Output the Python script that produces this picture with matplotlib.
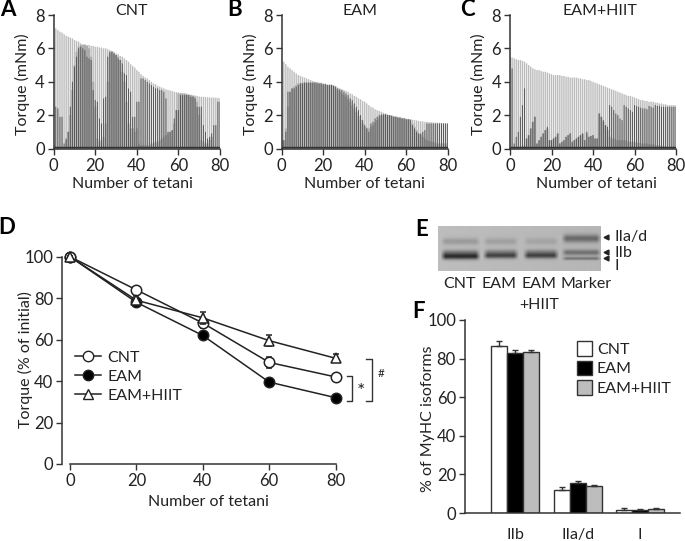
import numpy as np
import matplotlib
matplotlib.use('Agg')
import matplotlib.pyplot as plt
from matplotlib.patches import Patch
from matplotlib.lines import Line2D

plt.rcParams['font.family'] = ['Lato', 'DejaVu Sans']
INK = '#222222'
W, H = 685, 541
FS = 11.5

tetani = np.arange(81)

# traces A-C: top of each tetanus, then top of the grey fill and of the dark line
a_peak = [7.25, 7.2, 7.1, 7.0, 6.95, 6.85, 6.75, 6.7, 6.65, 6.6,
          6.5, 6.45, 6.4, 6.3, 6.25, 6.25, 6.2, 6.2, 6.15, 6.15,
          6.1, 6.1, 6.05, 6.05, 6.0, 6.0, 5.95, 5.9, 5.85, 5.8,
          5.7, 5.65, 5.55, 5.5, 5.4, 5.3, 5.2, 5.05, 4.95, 4.85,
          4.7, 4.6, 4.45, 4.35, 4.25, 4.2, 4.1, 4.0, 3.9, 3.85,
          3.75, 3.7, 3.65, 3.6, 3.55, 3.5, 3.48, 3.45, 3.4, 3.38,
          3.35, 3.33, 3.3, 3.3, 3.28, 3.25, 3.22, 3.2, 3.18, 3.15,
          3.12, 3.1, 3.1, 3.08, 3.07, 3.06, 3.05, 3.05, 3.04, 3.03, 3.02]
a_mid = [0.1, 0.1, 0.1, 0.1, 0.1, 0.1, 0.5, 1.0, 2.0, 3.5,
         5.0, 5.8, 6.1, 6.2, 6.2, 6.2, 6.15, 6.0, 5.5, 4.0,
         2.5, 0.6, 0.4, 0.5, 0.7, 1.5, 4.0, 5.7, 5.8, 5.7,
         5.6, 5.5, 5.3, 4.6, 4.0, 2.8, 1.5, 1.2, 1.2, 1.0,
         1.2, 0.3, 0.2, 0.2, 0.2, 0.2, 0.2, 0.3, 0.3, 0.4,
         0.4, 0.5, 0.6, 0.7, 0.8, 0.9, 1.0, 1.1, 1.5, 2.3,
         3.3, 3.3, 3.3, 3.3, 3.25, 3.2, 3.2, 3.15, 3.1, 2.8,
         2.0, 0.5, 0.4, 0.3, 0.3, 0.5, 0.7, 0.1, 0.1, 0.1, 0.1]
a_dark = [0.2, 2.5, 2.4, 1.9, 1.9, 0.3, 0.6, 1.0, 2.5, 4.0,
          4.9, 5.5, 6.0, 6.1, 6.0, 5.9, 5.5, 5.4, 5.3, 3.5,
          2.9, 2.8, 1.8, 1.5, 3.0, 3.1, 5.5, 5.8, 5.8, 5.7,
          5.6, 5.4, 5.3, 5.1, 4.5, 4.4, 3.6, 3.4, 1.9, 1.9,
          2.8, 2.8, 4.2, 4.2, 4.1, 4.0, 3.9, 3.8, 3.7, 3.6,
          3.6, 3.5, 3.5, 3.4, 3.0, 1.0, 1.0, 1.1, 1.8, 2.3,
          2.3, 3.2, 3.2, 3.2, 3.2, 3.2, 3.1, 3.1, 3.0, 2.5,
          2.5, 2.5, 1.4, 1.0, 0.6, 0.7, 0.9, 1.4, 1.4, 2.8, 2.8]

b_peak = [5.3, 5.2, 5.05, 4.9, 4.8, 4.7, 4.6, 4.5, 4.4, 4.35,
          4.3, 4.25, 4.2, 4.15, 4.1, 4.05, 4.0, 4.0, 3.95, 3.95,
          3.9, 3.9, 3.85, 3.85, 3.85, 3.8, 3.75, 3.65, 3.6, 3.55,
          3.5, 3.45, 3.4, 3.3, 3.25, 3.15, 3.1, 3.0, 2.95, 2.85,
          2.8, 2.7, 2.6, 2.5, 2.45, 2.35, 2.3, 2.25, 2.2, 2.15,
          2.1, 2.05, 2.0, 2.0, 1.95, 1.93, 1.9, 1.88, 1.85, 1.83,
          1.8, 1.78, 1.75, 1.72, 1.7, 1.68, 1.65, 1.63, 1.62, 1.6,
          1.6, 1.58, 1.58, 1.56, 1.55, 1.55, 1.54, 1.53, 1.52, 1.5, 1.5]
b_mid = [0.1, 0.5, 1.2, 2.5, 3.4, 3.6, 3.7, 3.8, 3.9, 3.9,
         3.95, 3.95, 3.95, 3.95, 3.95, 3.95, 3.95, 3.95, 3.9, 3.9,
         3.85, 3.85, 3.8, 3.8, 3.8, 3.75, 3.6, 3.5, 3.4, 3.3,
         3.2, 3.1, 2.95, 2.8, 2.6, 2.4, 2.2, 1.95, 1.7, 1.5,
         1.3, 1.25, 1.2, 1.3, 1.4, 1.55, 1.7, 1.85, 1.95, 2.0,
         2.05, 2.0, 2.0, 1.95, 1.9, 1.9, 1.85, 1.85, 1.8, 1.8,
         1.75, 1.75, 1.75, 1.5, 1.3, 1.1, 0.9, 0.8, 0.7, 0.6,
         0.5, 0.45, 0.4, 0.4, 0.35, 0.3, 0.3, 0.3, 0.3, 0.3, 0.3]
b_dark = [0.5, 0.5, 1.0, 3.4, 3.4, 3.6, 3.6, 3.7, 3.8, 3.9,
          3.9, 3.95, 3.95, 3.95, 3.95, 3.95, 3.95, 3.9, 3.9, 3.9,
          3.85, 3.85, 3.8, 3.8, 3.8, 3.75, 3.7, 3.6, 3.55, 3.5,
          3.4, 3.3, 3.2, 3.0, 2.9, 2.7, 2.5, 2.3, 2.0, 1.7,
          1.4, 1.2, 1.0, 1.5, 1.6, 1.8, 1.9, 2.0, 2.05, 2.05,
          2.05, 2.0, 2.0, 1.95, 1.9, 1.9, 1.85, 1.85, 1.8, 1.8,
          1.75, 1.75, 1.7, 1.4, 1.2, 1.0, 0.9, 0.9, 1.0, 1.1,
          1.5, 1.5, 1.5, 1.5, 1.5, 1.5, 1.5, 1.5, 1.5, 1.5, 1.5]

c_peak = [5.5, 5.45, 5.4, 5.35, 5.3, 5.3, 5.25, 5.2, 5.1, 5.0,
          4.9, 4.8, 4.75, 4.7, 4.7, 4.65, 4.6, 4.6, 4.55, 4.5,
          4.45, 4.4, 4.4, 4.4, 4.4, 4.35, 4.35, 4.3, 4.3, 4.25,
          4.25, 4.25, 4.25, 4.2, 4.2, 4.15, 4.15, 4.1, 4.1, 4.05,
          4.0, 3.95, 3.9, 3.85, 3.8, 3.75, 3.7, 3.65, 3.6, 3.55,
          3.5, 3.45, 3.4, 3.35, 3.3, 3.25, 3.2, 3.15, 3.15, 3.1,
          3.05, 3.0, 2.95, 2.9, 2.9, 2.85, 2.85, 2.8, 2.8, 2.8,
          2.75, 2.75, 2.7, 2.7, 2.65, 2.65, 2.6, 2.6, 2.6, 2.6, 2.6]
c_mid = [0.1, 0.1, 0.1, 0.1, 0.1, 0.1, 0.1, 0.2, 0.6, 0.8,
         1.2, 1.6, 1.9, 0.3, 0.5, 0.7, 0.9, 1.1, 1.2, 0.5,
         0.5, 0.6, 0.7, 0.9, 0.3, 0.4, 0.5, 0.7, 0.8, 0.9,
         0.4, 0.5, 0.6, 0.7, 0.8, 0.9, 0.5, 0.9, 0.7, 0.75,
         0.8, 0.6, 0.6, 2.1, 1.9, 1.6, 1.4, 1.1, 0.7, 0.6,
         0.6, 0.5, 0.5, 0.5, 0.5, 0.5, 0.5, 0.4, 0.4, 0.4,
         0.4, 0.35, 0.35, 0.3, 0.3, 0.3, 0.3, 0.25, 0.25, 0.25,
         0.2, 0.2, 0.2, 0.15, 0.15, 0.1, 0.1, 0.1, 0.1, 0.1, 0.1]
c_dark = [0.1, 4.8, 0.3, 0.7, 1.0, 1.9, 2.6, 3.6, 0.6, 0.8,
          1.2, 1.6, 1.9, 0.3, 0.5, 0.7, 0.9, 1.1, 1.3, 0.5,
          0.5, 0.6, 0.7, 0.9, 0.3, 0.4, 0.5, 0.7, 0.8, 0.9,
          0.4, 0.5, 0.6, 0.7, 0.8, 0.9, 0.5, 1.0, 0.7, 0.75,
          0.8, 0.6, 0.6, 2.1, 1.9, 1.7, 1.4, 1.3, 2.6, 2.5,
          2.3, 2.1, 2.0, 1.8, 1.7, 2.6, 2.5, 2.4, 2.3, 2.2,
          2.6, 2.55, 2.5, 2.45, 2.4, 2.4, 2.35, 2.55, 2.5, 2.45,
          2.6, 2.55, 2.55, 2.5, 2.5, 2.5, 2.5, 2.5, 2.5, 2.5, 2.5]

# D: torque over the protocol
d_x = [0, 20, 40, 60, 80]
d_cnt = [100, 84, 68, 49, 42]
d_eam = [100, 78, 62, 39.5, 32]
d_hiit = [100, 79, 70.5, 59.5, 51]
d_cnt_err = [0.5, 1.5, 2.5, 2.5, 1.5]
d_eam_err = [0.5, 1.5, 1.5, 1.5, 1.0]
d_hiit_err = [0.5, 2.0, 3.0, 2.5, 2.0]

# F: MyHC isoforms
isoforms = ['IIb', 'IIa/d', 'I']
f_cnt = [86.5, 11.7, 1.8]
f_eam = [83.0, 15.8, 1.7]
f_hiit = [83.5, 14.2, 2.3]
f_cnt_err = [2.5, 2.0, 0.8]
f_eam_err = [1.3, 1.0, 0.3]
f_hiit_err = [0.9, 0.5, 0.4]

# E: gel bands as (left, right, row, half height, strength), in gel pixels
gel_bands = [(6, 38, 16, 3.5, 0.13), (48, 76, 16, 3.5, 0.10), (88, 116, 16, 3.5, 0.08),
             (126, 158, 13, 4.0, 0.30),
             (6, 38, 27, 3.0, 0.22), (48, 76, 26, 2.5, 0.15), (88, 116, 26, 2.5, 0.15),
             (6, 38, 31, 3.0, 0.52), (48, 76, 30, 3.0, 0.45), (88, 116, 30, 3.0, 0.45),
             (126, 158, 27, 3.0, 0.27), (126, 158, 33, 1.6, 0.25)]


def px_axes(x0, x1, ytop, ybot):
    return fig.add_axes([x0 / W, 1 - ybot / H, (x1 - x0) / W, (ybot - ytop) / H])


def label(x, y, s, **kw):
    kw.setdefault('color', INK)
    kw.setdefault('ha', 'center')
    kw.setdefault('va', 'center')
    fig.text(x / W, 1 - y / H, s, **kw)


def style(ax):
    for side in ['top', 'right']:
        ax.spines[side].set_visible(False)
    for side in ['left', 'bottom']:
        ax.spines[side].set_linewidth(1.1)
        ax.spines[side].set_color('#333333')
    ax.tick_params(length=4, width=1.0, color='#333333', labelsize=12, labelcolor=INK, pad=2.5)


def trace(x0, x1, peak, mid, dark, xlab_x):
    ax = px_axes(x0, x1, 15, 148.5)
    ax.vlines(tetani, 0, peak, color='#bcbcbc', lw=1.0, snap=False)
    ax.vlines(tetani, 0, mid, color='#ababab', lw=1.5, snap=False)
    ax.vlines(tetani, 0, dark, color='#565656', lw=0.7, snap=False)
    ax.set_xlim(0, 80)
    ax.set_ylim(0, 8)
    ax.set_xticks(range(0, 81, 20))
    ax.set_yticks(range(0, 9, 2))
    ax.plot([0, 80], [0.06, 0.06], color='#333333', lw=1.0)
    ax.set_xlabel('Number of tetani', fontsize=FS, color=INK)
    ax.xaxis.set_label_coords(xlab_x, -0.213)
    ax.set_ylabel('Torque (mNm)', fontsize=FS, color=INK)
    ax.yaxis.set_label_coords(-0.143, 0.48)
    style(ax)
    return ax


fig = plt.figure(figsize=(W / 100, H / 100), dpi=100)

trace(53.7, 220, a_peak, a_mid, a_dark, 0.475)
trace(281.7, 447.7, b_peak, b_mid, b_dark, 0.5)
trace(510, 676, c_peak, c_mid, c_dark, 0.52)
label(131, 11, 'CNT', fontsize=FS)
label(360, 11, 'EAM', fontsize=FS)
label(600, 11, 'EAM+HIIT', fontsize=FS)
label(8, 10, 'A', fontsize=16, fontweight='bold', color='black')
label(235, 10, 'B', fontsize=16, fontweight='bold', color='black')
label(467, 10, 'C', fontsize=16, fontweight='bold', color='black')
label(7, 228, 'D', fontsize=16, fontweight='bold', color='black')
label(422, 229, 'E', fontsize=16, fontweight='bold', color='black')
label(419, 311, 'F', fontsize=16, fontweight='bold', color='black')

# D
ax = px_axes(62.3, 340, 250, 464)
ax.set_xlim((62.3 - 70) / 3.32, (340 - 70) / 3.32)
ax.set_ylim(0, (464 - 250) / 2.073)
mk = dict(color='#222222', lw=1.1, ms=7.5, mec='#222222', mew=1.1, capsize=2, elinewidth=1.0, clip_on=False)
ax.errorbar(d_x, d_cnt, yerr=d_cnt_err, fmt='-o', mfc='white', zorder=3, **mk)
ax.errorbar(d_x, d_eam, yerr=d_eam_err, fmt='-o', mfc='black', zorder=2, **mk)
ax.errorbar(d_x, d_hiit, yerr=d_hiit_err, fmt='-^', mfc='white', zorder=4, **mk)
ax.spines['left'].set_bounds(0, 100)
ax.spines['bottom'].set_bounds(0, 80)
ax.set_xticks(d_x)
ax.set_yticks(range(0, 101, 20))
ax.set_xlabel('Number of tetani', fontsize=FS, color=INK)
ax.xaxis.set_label_coords(0.525, -0.145)
ax.set_ylabel('Torque (% of initial)', fontsize=FS, color=INK)
ax.yaxis.set_label_coords(-0.105, 0.49)
style(ax)
handles = [Line2D([], [], color='#222222', lw=1.1, marker=m, ms=7.5, mfc=c, mec='#222222')
           for m, c in [('o', 'white'), ('o', 'black'), ('^', 'white')]]
ax.legend(handles, ['CNT', 'EAM', 'EAM+HIIT'], frameon=False, fontsize=FS, labelcolor=INK,
          loc='upper left', bbox_to_anchor=(0.046, 0.53), handlelength=1.6, handletextpad=0.4,
          labelspacing=0.3, borderpad=0, borderaxespad=0)
ax.plot([83.4, 84.9, 84.9, 83.4], [42.5, 42.5, 30.6, 30.6], color='#333333', lw=1.0, clip_on=False)
ax.plot([89.3, 91, 91, 89.3], [50.6, 50.6, 30.6, 30.6], color='#333333', lw=1.0, clip_on=False)
ax.text(87.6, 35, '*', fontsize=14, color=INK, ha='center', va='center', clip_on=False)
ax.text(93.6, 43.5, '#', fontsize=8.5, color=INK, ha='center', va='center', clip_on=False)

# E
ax = px_axes(437.7, 600, 226, 271.3)
rows, cols = np.mgrid[0:46, 0:162]
gel = np.full(rows.shape, 0.74) - 0.03 * cols / 162
for left, right, row, half, strength in gel_bands:
    across = np.clip((cols - left + 4) / 5, 0, 1) * np.clip((right + 4 - cols) / 5, 0, 1)
    gel = gel - strength * across * np.exp(-((rows - row) / half) ** 2)
ax.imshow(gel, cmap='gray', vmin=0, vmax=1, aspect='auto', interpolation='bilinear')
ax.axis('off')
label(460, 284, 'CNT', fontsize=FS)
label(499, 284, 'EAM', fontsize=FS)
label(539, 284, 'EAM', fontsize=FS)
label(539, 305, '+HIIT', fontsize=FS)
label(586, 284, 'Marker', fontsize=FS)
label(615, 237, 'IIa/d', fontsize=FS, ha='left')
label(615, 253, 'IIb', fontsize=FS, ha='left')
label(615, 266, 'I', fontsize=FS, ha='left')
over = fig.add_axes([0, 0, 1, 1], facecolor='none')
over.set_xlim(0, W)
over.set_ylim(H, 0)
over.axis('off')
over.plot([606, 606, 606], [237, 251.5, 258], ls='none', marker='<', ms=3.5, color='#222222')

# F
ax = px_axes(465, 680, 320, 513)
pos = np.arange(3)
bw = 16 / 62.3
bar = dict(width=bw, edgecolor='#333333', linewidth=1.0, capsize=2,
           error_kw=dict(elinewidth=1.0, capthick=1.0, ecolor='#333333'))
ax.bar(pos - bw, f_cnt, yerr=[[0] * 3, f_cnt_err], color='white', **bar)
ax.bar(pos, f_eam, yerr=[[0] * 3, f_eam_err], color='black', **bar)
ax.bar(pos + bw, f_hiit, yerr=[[0] * 3, f_hiit_err], color='#bdbdbd', **bar)
ax.set_xlim(-0.81, 2.64)
ax.set_ylim(0, 100)
ax.set_xticks(pos, isoforms)
ax.set_yticks(range(0, 101, 20))
ax.set_ylabel('% of MyHC isoforms', fontsize=FS, color=INK)
ax.yaxis.set_label_coords(-0.14, 0.49)
style(ax)
ax.tick_params(axis='x', length=0, labelsize=FS, pad=11)
patches = [Patch(facecolor=c, edgecolor='#333333', linewidth=1.0) for c in ['white', 'black', '#bdbdbd']]
ax.legend(patches, ['CNT', 'EAM', 'EAM+HIIT'], frameon=False, fontsize=FS, labelcolor=INK,
          loc='upper left', bbox_to_anchor=(0.52, 0.89), handlelength=0.95, handleheight=1.0,
          handletextpad=0.3, labelspacing=0.25, borderpad=0, borderaxespad=0)

plt.savefig('out.png', dpi=100)
